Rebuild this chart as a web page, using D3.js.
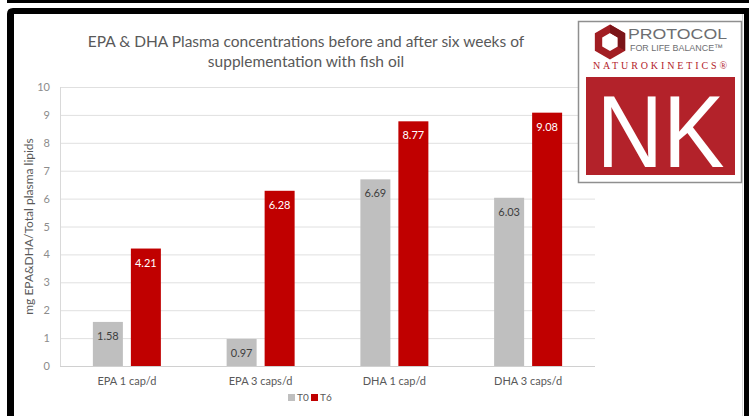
<!DOCTYPE html>
<html>
<head>
<meta charset="utf-8">
<script src="https://cdn.jsdelivr.net/npm/d3@7"></script>
<style>
  body { margin: 0; background: #fff; }
  svg { display: block; font-family: Lato, "Open Sans", sans-serif; }
</style>
</head>
<body>
<script>
// chart data
var categories = ["EPA 1 cap/d", "EPA 3 caps/d", "DHA 1 cap/d", "DHA 3 caps/d"];
var seriesNames = ["T0", "T6"];
var t0Values = [1.58, 0.97, 6.69, 6.03];
var t6Values = [4.21, 6.28, 8.77, 9.08];
var yTicks = [0, 1, 2, 3, 4, 5, 6, 7, 8, 9, 10];
var colors = {T0: "#bfbfbf", T6: "#c00000"};

var width = 749, height = 416;
var plotLeft = 60, plotRight = 595, plotTop = 87, plotBottom = 366;

var svg = d3.select("body").append("svg")
  .attr("width", width)
  .attr("height", height);

svg.append("rect").attr("width", width).attr("height", height).attr("fill", "#fff");

// black frame around the slide
svg.append("rect").attr("x", 7).attr("y", 0).attr("width", width - 7).attr("height", 3).attr("fill", "#000");
svg.append("path")
  .attr("d", "M7,416 V14 Q7,8 13,8 H749 V416 H744 V14 H14 V416 Z")
  .attr("fill", "#000");
svg.append("line").attr("x1", 742.5).attr("x2", 742.5).attr("y1", 14).attr("y2", 416)
  .attr("stroke", "#d8d8d8");

var x0 = d3.scaleBand().domain(categories).range([plotLeft, plotRight]);
var groupW = 68;
var x1 = d3.scaleBand().domain(seriesNames).range([0, groupW]).paddingInner(0.2105);
var y = d3.scaleLinear().domain([0, 10]).range([plotBottom, plotTop]);

// gridlines
svg.append("g").selectAll("line").data(yTicks.filter(function(d){ return d > 0; })).enter().append("line")
  .attr("x1", plotLeft).attr("x2", plotRight)
  .attr("y1", function(d){ return y(d) + 0.5; })
  .attr("y2", function(d){ return y(d) + 0.5; })
  .attr("stroke", "#e0e0e0").attr("stroke-width", 1);

// axis lines
svg.append("line").attr("x1", plotLeft + 0.5).attr("x2", plotLeft + 0.5)
  .attr("y1", plotTop).attr("y2", plotBottom)
  .attr("stroke", "#d9d9d9");
svg.append("line").attr("x1", plotLeft).attr("x2", plotRight)
  .attr("y1", plotBottom + 0.5).attr("y2", plotBottom + 0.5)
  .attr("stroke", "#d0d0d0");

// y tick labels
var yAxis = d3.axisLeft(y).tickValues(yTicks).tickSize(0).tickPadding(10);
var yg = svg.append("g").attr("transform", "translate(" + plotLeft + ",0)").call(yAxis);
yg.select(".domain").remove();
yg.selectAll("text").attr("fill", "#8c8c8c").style("font-size", "11px").style("font-family", "Lato, sans-serif");

// x category labels
var xAxis = d3.axisBottom(x0).tickSize(0).tickPadding(11);
var xg = svg.append("g").attr("transform", "translate(0," + plotBottom + ")").call(xAxis);
xg.select(".domain").remove();
xg.selectAll("text").attr("fill", "#595959").style("font-size", "11px").style("font-family", "Lato, sans-serif");

// bars
var rows = categories.map(function(c, i){
  return {cat: c, vals: [{s: "T0", v: t0Values[i]}, {s: "T6", v: t6Values[i]}]};
});

var groups = svg.append("g").selectAll("g").data(rows).enter().append("g")
  .attr("transform", function(d){ return "translate(" + (x0(d.cat) + (x0.bandwidth() - groupW) / 2) + ",0)"; });

groups.selectAll("rect").data(function(d){ return d.vals; }).enter().append("rect")
  .attr("x", function(d){ return x1(d.s); })
  .attr("y", function(d){ return y(d.v); })
  .attr("width", x1.bandwidth())
  .attr("height", function(d){ return y(0) - y(d.v); })
  .attr("fill", function(d){ return colors[d.s]; });

groups.selectAll("text").data(function(d){ return d.vals; }).enter().append("text")
  .attr("x", function(d){ return x1(d.s) + x1.bandwidth() / 2; })
  .attr("y", function(d){ return y(d.v) + 18; })
  .attr("text-anchor", "middle")
  .attr("fill", function(d){ return d.s === "T0" ? "#404040" : "#fff"; })
  .style("font-size", "11px")
  .text(function(d){ return d3.format(".2f")(d.v); });

// title
var title = svg.append("text").attr("text-anchor", "middle").attr("fill", "#595959").style("font-size", "15.5px");
title.append("tspan").attr("x", 306).attr("y", 47).text("EPA & DHA Plasma concentrations before and after six weeks of");
title.append("tspan").attr("x", 306).attr("y", 67).text("supplementation with fish oil");

// y axis title
svg.append("text")
  .attr("transform", "translate(33," + ((plotTop + plotBottom) / 2) + ") rotate(-90)")
  .attr("text-anchor", "middle")
  .attr("fill", "#595959")
  .style("font-size", "12px")
  .text("mg EPA&DHA/Total plasma lipids");

// legend
var legend = svg.append("g").selectAll("g").data(seriesNames).enter().append("g")
  .attr("transform", function(d, i){ return "translate(" + (288 + i * 23) + ",394)"; });
legend.append("rect").attr("width", 7).attr("height", 7).attr("fill", function(d){ return colors[d]; });
legend.append("text").attr("x", 9).attr("y", 7).attr("fill", "#595959").style("font-size", "10px").text(function(d){ return d; });

// logo
var logo = svg.append("g");
logo.append("rect").attr("x", 578.5).attr("y", 21.5).attr("width", 163).attr("height", 161)
  .attr("fill", "#fff").attr("stroke", "#8f8f8f").attr("stroke-width", 1.5);
logo.append("rect").attr("x", 586).attr("y", 77).attr("width", 149).attr("height", 98).attr("fill", "#b3222a");
logo.append("text").attr("x", 660.5).attr("y", 167).attr("text-anchor", "middle")
  .attr("fill", "#fff").style("font-size", "102px").style("font-weight", 300)
  .style("font-family", "'Liberation Sans', Arial, sans-serif")
  .attr("textLength", 128).attr("lengthAdjust", "spacingAndGlyphs")
  .text("NK");

function hexPath(cx, cy, r) {
  var p = d3.range(6).map(function(i){
    var a = Math.PI / 3 * i - Math.PI / 2;
    return [cx + r * Math.cos(a), cy + r * Math.sin(a)];
  });
  return "M" + p.join("L") + "Z";
}
logo.append("path").attr("d", hexPath(610, 42, 17.5) + hexPath(610, 42, 9))
  .attr("fill-rule", "evenodd").attr("fill", "#a11d22");
logo.append("path").attr("d", "M610,24.5 L625.2,33.25 L625.2,50.75 L617.8,46.5 L617.8,37.5 L610,33 Z")
  .attr("fill", "#7a1418");
logo.append("text").attr("x", 628).attr("y", 39).attr("fill", "#6d6e71")
  .style("font-size", "15.5px").attr("textLength", 99).attr("lengthAdjust", "spacingAndGlyphs")
  .style("font-family", "'Liberation Sans Narrow', 'Liberation Sans', sans-serif")
  .text("PROTOCOL");
logo.append("text").attr("x", 630).attr("y", 51).attr("fill", "#6d6e71")
  .style("font-size", "9.5px").attr("textLength", 93).attr("lengthAdjust", "spacingAndGlyphs")
  .style("font-family", "'Liberation Sans Narrow', 'Liberation Sans', sans-serif")
  .text("FOR LIFE BALANCE\u2122");
logo.append("text").attr("x", 593).attr("y", 68.5).attr("fill", "#b3222a")
  .style("font-size", "10px").attr("textLength", 134).attr("lengthAdjust", "spacing")
  .style("font-family", "'Liberation Serif', 'DejaVu Serif', serif")
  .text("NATUROKINETICS\u00ae");
</script>
</body>
</html>
